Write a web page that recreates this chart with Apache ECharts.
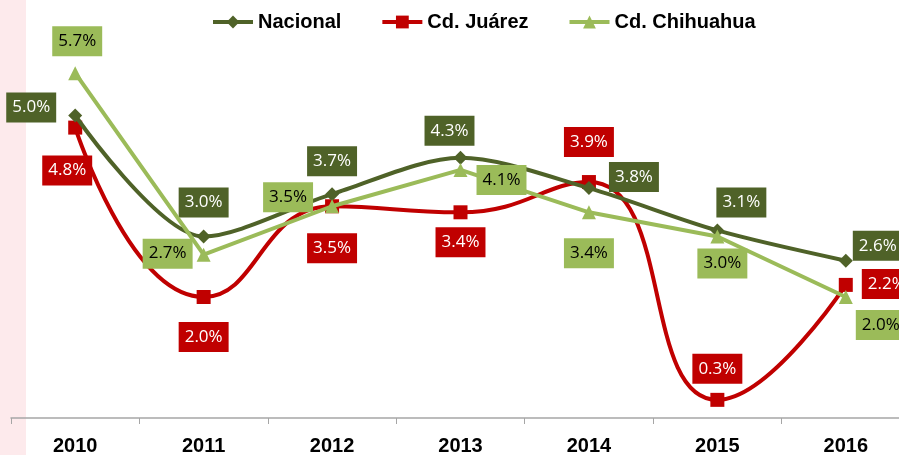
<!DOCTYPE html>
<html>
<head>
<meta charset="utf-8">
<script src="https://cdn.jsdelivr.net/npm/echarts@6/dist/echarts.min.js"></script>
<style>
  html, body { margin: 0; padding: 0; background: #ffffff; }
  #chart { width: 899px; height: 455px; }
</style>
</head>
<body>
<div id="chart"></div>
<script>
// Annual growth rates (%), 2010–2016
const years = ['2010', '2011', '2012', '2013', '2014', '2015', '2016'];
const nacional = [5.0, 3.0, 3.7, 4.3, 3.8, 3.1, 2.6];
const juarez = [4.8, 2.0, 3.5, 3.4, 3.9, 0.3, 2.2];
const chihuahua = [5.7, 2.7, 3.5, 4.1, 3.4, 3.0, 2.0];

// Label box placement relative to each marker (px)
const nacionalLabelOffsets = [[-44, -8], [0, -34], [0, -33], [-11, -27], [45, -11], [24, -28], [32, -15]];
const juarezLabelOffsets = [[-8, 43], [0, 40], [0, 42], [0, 30], [0, -40], [0, -31], [41, -1]];
const chihuahuaLabelOffsets = [[2, -32], [-36, -1], [-44, -9], [41, 10], [0, 41], [5, 27], [35, 28]];

const COLORS = { nacional: '#4F6228', juarez: '#C00000', chihuahua: '#9BBB59' };

function withLabels(values, offsets, bg, textColor) {
  return values.map((v, i) => ({
    value: v,
    label: {
      show: true,
      position: 'inside',
      offset: offsets[i],
      formatter: (p) => p.value.toFixed(1) + '%',
      backgroundColor: bg,
      color: textColor,
      fontFamily: 'Open Sans',
      fontSize: 17,
      lineHeight: 19,
      padding: [6, 6, 5, 6]
    }
  }));
}

const chart = echarts.init(document.getElementById('chart'), null, { renderer: 'canvas' });

chart.setOption({
  animation: false,
  backgroundColor: '#ffffff',
  graphic: [{
    type: 'rect',
    z: -10,
    shape: { x: 0, y: 0, width: 26, height: 455 },
    style: { fill: '#FDEAEC' },
    silent: true
  }],
  legend: {
    top: 7,
    left: 206,
    itemWidth: 40,
    itemHeight: 16,
    itemGap: 39,
    lineStyle: { width: 4 },
    textStyle: { fontFamily: 'Liberation Sans', fontWeight: 'bold', fontSize: 20, color: '#000000' },
    data: ['Nacional', 'Cd. Juárez', 'Cd. Chihuahua']
  },
  grid: { left: 11, top: 55, width: 899, height: 363, containLabel: false, outerBoundsMode: 'none' },
  xAxis: {
    type: 'category',
    data: years,
    boundaryGap: true,
    axisLine: { lineStyle: { color: '#A6A6A6', width: 1.5 } },
    axisTick: { show: true, length: 6, alignWithLabel: false, lineStyle: { color: '#A6A6A6' } },
    axisLabel: {
      margin: 18,
      fontFamily: 'Liberation Sans',
      fontWeight: 'bold',
      fontSize: 20,
      color: '#000000'
    },
    splitLine: { show: false }
  },
  yAxis: {
    type: 'value',
    min: 0,
    max: 6,
    show: false
  },
  series: [
    {
      name: 'Nacional',
      type: 'line',
      smooth: 0.3,
      data: withLabels(nacional, nacionalLabelOffsets, COLORS.nacional, '#ffffff'),
      symbol: 'diamond',
      symbolSize: 14,
      lineStyle: { color: COLORS.nacional, width: 4 },
      itemStyle: { color: COLORS.nacional },
      z: 3
    },
    {
      name: 'Cd. Juárez',
      type: 'line',
      smooth: 0.5,
      data: withLabels(juarez, juarezLabelOffsets, COLORS.juarez, '#ffffff'),
      symbol: 'rect',
      symbolSize: 14,
      lineStyle: { color: COLORS.juarez, width: 4 },
      itemStyle: { color: COLORS.juarez },
      z: 2
    },
    {
      name: 'Cd. Chihuahua',
      type: 'line',
      smooth: false,
      data: withLabels(chihuahua, chihuahuaLabelOffsets, COLORS.chihuahua, '#000000'),
      symbol: 'triangle',
      symbolSize: 14,
      lineStyle: { color: COLORS.chihuahua, width: 4 },
      itemStyle: { color: COLORS.chihuahua },
      z: 4
    }
  ]
});
</script>
</body>
</html>
